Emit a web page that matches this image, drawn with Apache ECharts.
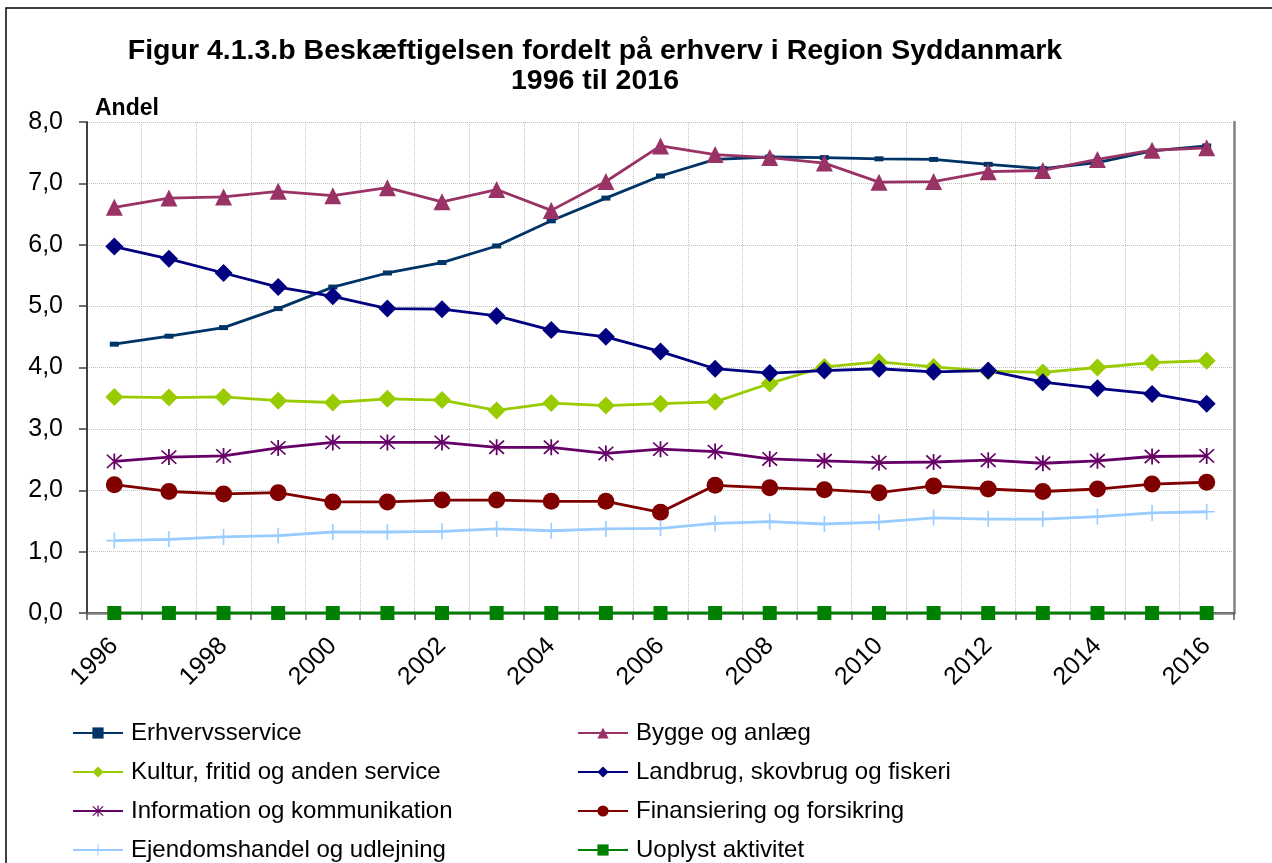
<!DOCTYPE html>
<html>
<head>
<meta charset="utf-8">
<script src="https://cdn.jsdelivr.net/npm/echarts@6/dist/echarts.min.js"></script>
<style>
  html, body { margin: 0; padding: 0; background: #fff; }
  #chart { width: 1272px; height: 863px; }
</style>
</head>
<body>
<div id="chart"></div>
<script>
const years = ["1996", "1997", "1998", "1999", "2000", "2001", "2002", "2003", "2004", "2005", "2006",
  "2007", "2008", "2009", "2010", "2011", "2012", "2013", "2014", "2015", "2016"]

const erhvervsservice = [4.38, 4.51, 4.65, 4.96, 5.31, 5.54, 5.71, 5.98, 6.39, 6.76, 7.12,
  7.39, 7.43, 7.42, 7.40, 7.39, 7.31, 7.24, 7.34, 7.53, 7.61]
const bygge = [6.61, 6.76, 6.78, 6.87, 6.80, 6.93, 6.70, 6.90, 6.56, 7.03, 7.61,
  7.47, 7.42, 7.33, 7.02, 7.03, 7.19, 7.21, 7.39, 7.54, 7.58]
const kultur = [3.52, 3.51, 3.52, 3.46, 3.43, 3.49, 3.47, 3.30, 3.42, 3.38, 3.41,
  3.44, 3.74, 4.01, 4.09, 4.01, 3.94, 3.92, 4.00, 4.08, 4.11]
const landbrug = [5.97, 5.77, 5.54, 5.31, 5.16, 4.96, 4.95, 4.84, 4.61, 4.50, 4.26,
  3.98, 3.91, 3.95, 3.98, 3.93, 3.95, 3.76, 3.66, 3.57, 3.41]
const information = [2.47, 2.54, 2.56, 2.69, 2.78, 2.78, 2.78, 2.70, 2.70, 2.60, 2.67,
  2.63, 2.51, 2.48, 2.45, 2.46, 2.49, 2.44, 2.48, 2.55, 2.56]
const finansiering = [2.09, 1.98, 1.94, 1.96, 1.81, 1.81, 1.84, 1.84, 1.82, 1.82, 1.64,
  2.08, 2.04, 2.01, 1.96, 2.07, 2.02, 1.98, 2.02, 2.10, 2.13]
const ejendom = [1.18, 1.20, 1.24, 1.26, 1.32, 1.32, 1.33, 1.37, 1.34, 1.37, 1.38,
  1.46, 1.49, 1.45, 1.48, 1.55, 1.53, 1.53, 1.57, 1.63, 1.65]
const uoplyst = [0, 0, 0, 0, 0, 0, 0, 0, 0, 0, 0,
  0, 0, 0, 0, 0, 0, 0, 0, 0, 0]

const yTicks = [0, 1, 2, 3, 4, 5, 6, 7, 8]

const FONT = "Liberation Sans, Arial, sans-serif"

// markers that ECharts has no built-in for
const asterisk = "path://M9,0 L11,0 L11,20 L9,20 Z M1,2.4 L2.4,1 L19,17.6 L17.6,19 Z M17.6,1 L19,2.4 L2.4,19 L1,17.6 Z"
const plus = "path://M9,0 L11,0 L11,20 L9,20 Z M0,9 L20,9 L20,11 L0,11 Z"

function line(name, data, color, symbol, size) {
  return {
    name: name,
    type: "line",
    data: data,
    symbol: symbol,
    symbolSize: size,
    showAllSymbol: true,
    animation: false,
    lineStyle: { color: color, width: 2.8 },
    itemStyle: { color: color, borderWidth: 0 },
    emphasis: { disabled: true },
  }
}

function legendCol(left, names) {
  return {
    orient: "vertical",
    left: left,
    top: 720,
    height: 200,
    padding: 0,
    itemWidth: 50,
    itemHeight: 14,
    itemGap: 13,
    data: names,
    textStyle: { fontFamily: FONT, fontSize: 24, color: "#000", lineHeight: 26, padding: [0, 0, 0, 3] },
  }
}

const chart = echarts.init(document.getElementById("chart"))
chart.setOption({
  backgroundColor: "#fff",
  textStyle: { fontFamily: FONT },
  title: {
    text: "Figur 4.1.3.b Beskæftigelsen fordelt på erhverv i Region Syddanmark\n1996 til 2016",
    left: 590,
    top: 31,
    textAlign: "center",
    textStyle: { fontFamily: FONT, fontSize: 28.5, fontWeight: "bold", color: "#000", lineHeight: 30 },
  },
  graphic: [
    {
      type: "rect",
      shape: { x: 6, y: 8, width: 1400, height: 1000 },
      style: { fill: "none", stroke: "#000", lineWidth: 1.5 },
      silent: true,
    },
  ],
  legend: [
    legendCol(72, ["Erhvervsservice", "Kultur, fritid og anden service", "Information og kommunikation", "Ejendomshandel og udlejning"]),
    legendCol(577, ["Bygge og anlæg", "Landbrug, skovbrug og fiskeri", "Finansiering og forsikring", "Uoplyst aktivitet"]),
  ],
  grid: { left: 87, right: 38, top: 122, bottom: 250 },
  xAxis: [
    {
      type: "category",
      data: years,
      boundaryGap: true,
      axisLine: { show: true, lineStyle: { color: "#000", width: 1.5 } },
      axisTick: { show: true, interval: 0, length: 7, lineStyle: { color: "#555", width: 1.5 } },
      axisLabel: { interval: 1, rotate: 45, margin: 29, fontSize: 25, color: "#000", fontFamily: FONT },
      splitLine: { show: true, interval: 0, lineStyle: { color: "#c0c0c0", type: "dotted", width: 1 } },
    },
    {
      type: "category",
      data: years,
      position: "top",
      axisLine: { show: true, lineStyle: { color: "#808080", width: 2.5 } },
      axisTick: { show: false },
      axisLabel: { show: false },
      splitLine: { show: false },
    },
  ],
  yAxis: [
    {
      type: "value",
      min: yTicks[0],
      max: yTicks[yTicks.length - 1],
      interval: 1,
      name: "Andel",
      nameLocation: "end",
      nameGap: 2,
      nameTextStyle: { fontFamily: FONT, fontSize: 23, fontWeight: "bold", color: "#000", align: "left", padding: [0, 0, 0, 8] },
      axisLine: { show: true, lineStyle: { color: "#404040", width: 2 } },
      axisTick: { show: true, length: 8, lineStyle: { color: "#404040", width: 1.5 } },
      axisLabel: { margin: 24, fontSize: 25, color: "#000", fontFamily: FONT, formatter: (v) => v.toFixed(1).replace(".", ",") },
      splitLine: { show: true, lineStyle: { color: "#c0c0c0", type: "dotted", width: 1 } },
    },
    {
      type: "value",
      min: yTicks[0],
      max: yTicks[yTicks.length - 1],
      interval: 1,
      position: "right",
      axisLine: { show: true, lineStyle: { color: "#808080", width: 2.5 } },
      axisTick: { show: false },
      axisLabel: { show: false },
      splitLine: { show: false },
    },
  ],
  series: [
    line("Erhvervsservice", erhvervsservice, "#003366", "rect", [9, 5]),
    line("Bygge og anlæg", bygge, "#993366", "triangle", 17),
    line("Kultur, fritid og anden service", kultur, "#99cc00", "diamond", 18),
    line("Landbrug, skovbrug og fiskeri", landbrug, "#000080", "diamond", 18),
    line("Information og kommunikation", information, "#660066", asterisk, 16),
    line("Finansiering og forsikring", finansiering, "#800000", "circle", 17),
    line("Ejendomshandel og udlejning", ejendom, "#99ccff", plus, 16),
    line("Uoplyst aktivitet", uoplyst, "#008000", "rect", 14),
  ],
})

window.addEventListener("resize", () => {
  chart.resize()
})
</script>
</body>
</html>
